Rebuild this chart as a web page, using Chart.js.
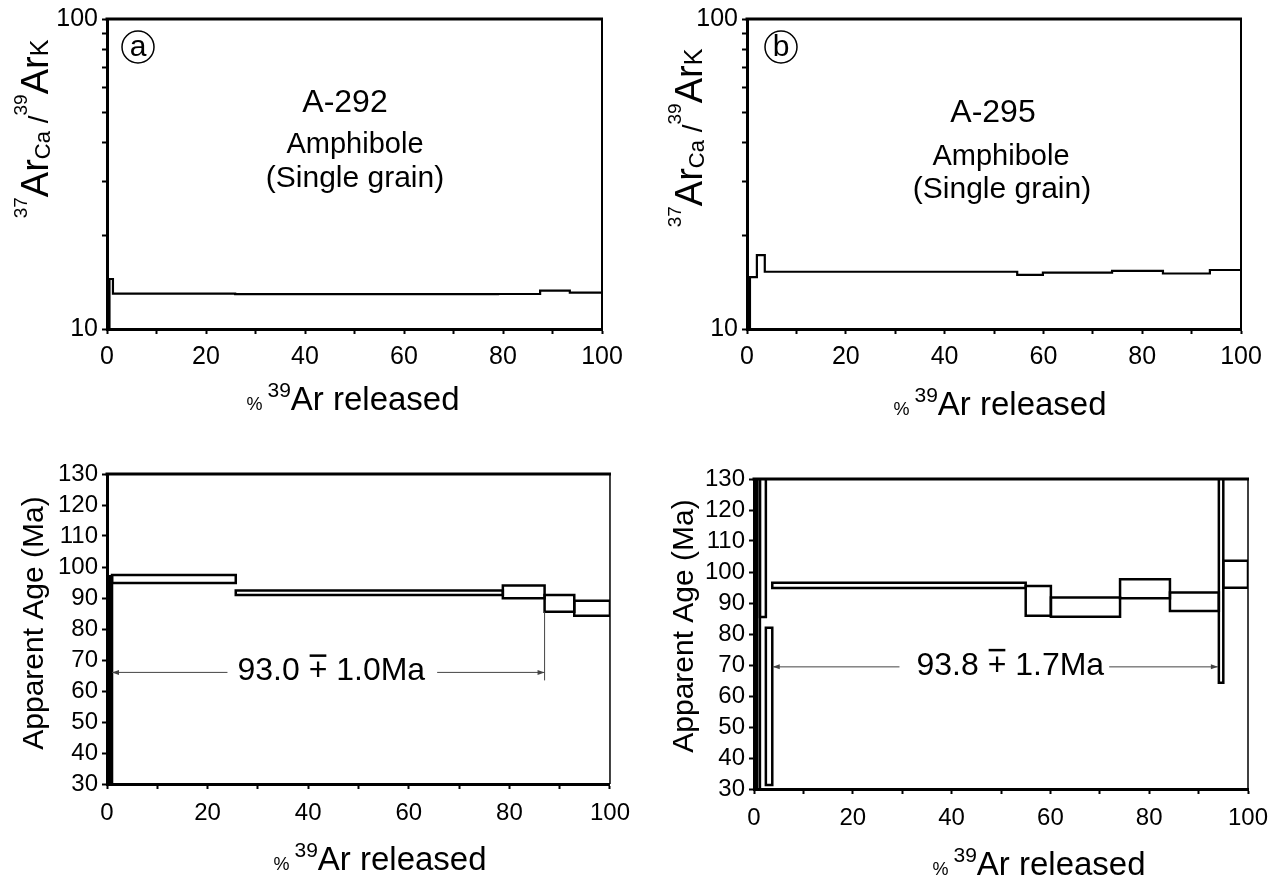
<!DOCTYPE html>
<html>
<head>
<meta charset="utf-8">
<script src="https://cdn.jsdelivr.net/npm/chart.js@4.4.1/dist/chart.umd.min.js"></script>
<style>
  body { margin: 0; background: #fff; }
  #page { position: relative; width: 1288px; height: 879px; }
  canvas { position: absolute; }
</style>
</head>
<body>
<div id="page">
  <canvas id="ratioA" width="640" height="430" style="left:0;top:0"></canvas>
  <canvas id="ratioB" width="648" height="430" style="left:640px;top:0"></canvas>
  <canvas id="ageA" width="640" height="449" style="left:0;top:430px"></canvas>
  <canvas id="ageB" width="648" height="449" style="left:640px;top:430px"></canvas>
</div>
<script>
// values
const xLabels = [0, 20, 40, 60, 80, 100];
const logTicks = [10, 20, 30, 40, 50, 60, 70, 80, 90, 100];
const logLabels = [10, 100];

// (a) A-292
const ratioStepsA = [0, 0.5, 1.2, 25.9, 79.0, 87.5, 93.5, 100];
const ratioValsA = [8, 14.5, 13.0, 12.95, 12.97, 13.3, 13.1];
const ageStepsA = [0, 0.5, 1.0, 25.6, 78.7, 87.0, 92.9, 100];
const ageLoA = [23, 27, 94.8, 91.0, 89.9, 85.6, 84.3];
const ageHiA = [97, 97, 97.4, 92.4, 94.0, 91.0, 89.1];
const plateauRangeA = [1.0, 87.0];
const plateauYA = 66;
const plateauTextA = ['93.0 ', ' 1.0Ma'];

// (b) A-295
const ratioStepsB = [0, 0.6, 2.0, 3.6, 54.7, 59.9, 73.9, 84.2, 93.7, 100];
const ratioValsB = [9, 14.7, 17.3, 15.3, 14.95, 15.2, 15.4, 15.1, 15.5];
const ageStepsB = [0, 0.6, 1.2, 2.4, 3.7, 55.0, 60.1, 74.1, 84.2, 94.1, 95.0, 100];
const ageLoB = [20, 20, 85.5, 31.3, 94.8, 85.9, 85.6, 91.5, 87.4, 64.3, 94.9];
const ageHiB = [140, 140, 150, 82, 96.5, 95.5, 91.8, 97.7, 93.4, 150, 103.6];
const plateauRangeB = [3.8, 93.9];
const plateauYB = 69.4;
const plateauTextB = ['93.8 ', ' 1.7Ma'];

const FONT = '"Liberation Sans", Arial, Helvetica, sans-serif';

function stepPoints(steps, vals) {
    const pts = [];
    vals.forEach((v, i) => {
        pts.push({ x: steps[i], y: v }, { x: steps[i + 1], y: v });
    });
    return pts;
}

function boxSets(steps, lo, hi) {
    return lo.map((l, i) => ({
        data: [
            { x: steps[i], y: l }, { x: steps[i + 1], y: l },
            { x: steps[i + 1], y: hi[i] }, { x: steps[i], y: hi[i] },
            { x: steps[i], y: l }
        ],
        borderColor: '#000',
        borderWidth: 2.5,
        borderCapStyle: 'square',
        pointRadius: 0,
        showLine: true,
        fill: false
    }));
}

// text made of pieces with own size and vertical shift (sup/sub)
function drawParts(ctx, parts, x, y, rotate) {
    ctx.save();
    ctx.translate(x, y);
    if (rotate) ctx.rotate(-Math.PI / 2);
    let total = 0;
    parts.forEach(p => {
        ctx.font = p[1] + 'px ' + FONT;
        total += ctx.measureText(p[0]).width;
    });
    let cx = -total / 2;
    ctx.fillStyle = '#000';
    ctx.textAlign = 'left';
    ctx.textBaseline = 'alphabetic';
    parts.forEach(p => {
        ctx.font = p[1] + 'px ' + FONT;
        ctx.fillText(p[0], cx, p[2] || 0);
        cx += ctx.measureText(p[0]).width;
    });
    ctx.restore();
}

function drawText(ctx, text, size, x, y) {
    ctx.font = size + 'px ' + FONT;
    ctx.fillStyle = '#000';
    ctx.textAlign = 'center';
    ctx.textBaseline = 'alphabetic';
    ctx.fillText(text, x, y);
}

function circled(ctx, letter, x, y) {
    ctx.lineWidth = 1.5;
    ctx.strokeStyle = '#000';
    ctx.beginPath();
    ctx.arc(x, y, 16, 0, Math.PI * 2);
    ctx.stroke();
    ctx.font = '30px ' + FONT;
    ctx.fillStyle = '#000';
    ctx.textAlign = 'center';
    ctx.textBaseline = 'middle';
    ctx.fillText(letter, x, y + 1);
}

function arrowHead(ctx, x, y, dir) {
    ctx.beginPath();
    ctx.moveTo(x, y);
    ctx.lineTo(x - dir * 7, y - 2.5);
    ctx.lineTo(x - dir * 7, y + 2.5);
    ctx.closePath();
    ctx.fill();
}

function drawPlateau(chart, range, yVal, text, shift, gapL, gapR, markerLo) {
    const ctx = chart.ctx;
    const xs = chart.scales.x, ys = chart.scales.y;
    const x0 = xs.getPixelForValue(range[0]);
    const x1 = xs.getPixelForValue(range[1]);
    const y = ys.getPixelForValue(yVal);

    ctx.font = '32px ' + FONT;
    const w0 = ctx.measureText(text[0]).width;
    const wp = ctx.measureText('+').width;
    const w1 = ctx.measureText(text[1]).width;
    const tx = (x0 + x1) / 2 + shift - (w0 + wp + w1) / 2;
    ctx.fillStyle = '#000';
    ctx.textAlign = 'left';
    ctx.textBaseline = 'alphabetic';
    ctx.fillText(text[0], tx, y + 8);
    ctx.fillText('+', tx + w0, y + 8);
    ctx.fillText(text[1], tx + w0 + wp, y + 8);
    ctx.fillRect(tx + w0 + 1, y - 18, wp - 2, 2.5); // bar over the plus

    ctx.strokeStyle = '#444';
    ctx.fillStyle = '#444';
    ctx.lineWidth = 1;
    ctx.beginPath();
    ctx.moveTo(x0, y); ctx.lineTo(tx - gapL, y);
    ctx.moveTo(tx + w0 + wp + w1 + gapR, y); ctx.lineTo(x1, y);
    if (markerLo !== undefined) {
        ctx.moveTo(x1, ys.getPixelForValue(markerLo));
        ctx.lineTo(x1, y + 8);
    }
    ctx.stroke();
    arrowHead(ctx, x0, y, -1);
    arrowHead(ctx, x1, y, 1);
}

const xTitle = [['%', 18, 0], [' ', 18, 0], ['39', 21, -13], ['Ar released', 33, 0]];
const ratioTitle = [['37', 19, -21], ['Ar', 38, 0], ['Ca', 22, 2], [' /', 28, 0],
                    ['39', 19, -21], ['Ar', 38, 0], ['K', 25, 0]];

const decor = {
    id: 'decor',
    afterDraw(chart, args, opts) {
        const ctx = chart.ctx;
        const a = chart.chartArea;
        ctx.save();
        ctx.strokeStyle = '#000';
        ctx.lineWidth = 3;
        ctx.beginPath();
        ctx.moveTo(a.left - 1.5, a.top);
        ctx.lineTo(a.right + 1, a.top);
        ctx.stroke();
        ctx.lineWidth = opts.rightWidth;
        ctx.beginPath();
        ctx.moveTo(a.right, a.top);
        ctx.lineTo(a.right, a.bottom);
        ctx.stroke();
        opts.draw(chart, ctx);
        ctx.restore();
    }
};

function axisX(height, pad, size) {
    return {
        type: 'linear', min: 0, max: 100,
        ticks: {
            stepSize: 10, autoSkip: false, maxRotation: 0, padding: pad, color: '#000',
            font: { family: FONT, size: size },
            callback: v => xLabels.includes(v) ? String(v) : ''
        },
        grid: { drawOnChartArea: false, drawTicks: true, tickLength: 5, tickWidth: 2, tickColor: '#000' },
        border: { display: true, width: 3, color: '#000' },
        afterFit: s => { s.height = height; }
    };
}

function logY(width) {
    return {
        type: 'logarithmic', min: 10, max: 100,
        afterBuildTicks: s => { s.ticks = logTicks.map(v => ({ value: v })); },
        ticks: {
            autoSkip: false, padding: 4, color: '#000',
            font: { family: FONT, size: 25 },
            callback: v => logLabels.includes(v) ? String(v) : ''
        },
        grid: { drawOnChartArea: false, drawTicks: true, tickLength: 5, tickWidth: 2, tickColor: '#000' },
        border: { display: true, width: 3, color: '#000' },
        afterFit: s => { s.width = width; }
    };
}

function ageY(width) {
    return {
        type: 'linear', min: 30, max: 130,
        ticks: {
            stepSize: 10, autoSkip: false, padding: 4, color: '#000',
            font: { family: FONT, size: 24 }
        },
        grid: { drawOnChartArea: false, drawTicks: true, tickLength: 5, tickWidth: 2, tickColor: '#000' },
        border: { display: true, width: 3, color: '#000' },
        afterFit: s => { s.width = width; }
    };
}

function makeChart(id, datasets, scales, padding, decorOpts) {
    return new Chart(document.getElementById(id), {
        type: 'scatter',
        data: { datasets: datasets },
        options: {
            responsive: false,
            animation: false,
            events: [],
            layout: { padding: padding },
            scales: scales,
            plugins: { legend: { display: false }, tooltip: { enabled: false }, decor: decorOpts }
        },
        plugins: [decor]
    });
}

const stepStyle = { borderColor: '#000', borderWidth: 2.2, pointRadius: 0, showLine: true, fill: false };

// (a) top: 37Ar/39Ar spectrum
makeChart('ratioA',
    [Object.assign({ data: stepPoints(ratioStepsA, ratioValsA) }, stepStyle)],
    { x: axisX(101, 8, 25), y: logY(107) },
    { top: 19, right: 38, left: 0, bottom: 0 },
    {
        rightWidth: 2,
        draw: (chart, ctx) => {
            circled(ctx, 'a', 138, 47);
            drawText(ctx, 'A-292', 32, 345, 112);
            drawText(ctx, 'Amphibole', 29, 355, 153);
            drawText(ctx, '(Single grain)', 30, 355, 187);
            drawParts(ctx, xTitle, 353, 410, false);
            drawParts(ctx, ratioTitle, 48, 129, true);
        }
    });

// (b) top
makeChart('ratioB',
    [Object.assign({ data: stepPoints(ratioStepsB, ratioValsB) }, stepStyle)],
    { x: axisX(101, 8, 25), y: logY(107) },
    { top: 19, right: 47, left: 0, bottom: 0 },
    {
        rightWidth: 2,
        draw: (chart, ctx) => {
            circled(ctx, 'b', 141, 47);
            drawText(ctx, 'A-295', 32, 353, 122);
            drawText(ctx, 'Amphibole', 29, 361, 165);
            drawText(ctx, '(Single grain)', 30, 362, 198);
            drawParts(ctx, xTitle, 360, 415, false);
            drawParts(ctx, ratioTitle, 62, 138, true);
        }
    });

// (a) bottom: age spectrum
makeChart('ageA',
    boxSets(ageStepsA, ageLoA, ageHiA),
    { x: axisX(95, 10, 24), y: ageY(107) },
    { top: 44, right: 26, left: 0, bottom: 0 },
    {
        rightWidth: 1.5,
        draw: (chart, ctx) => {
            drawPlateau(chart, plateauRangeA, plateauYA, plateauTextA, 3, 10, 12, ageLoA[5]);
            drawParts(ctx, xTitle, 380, 440, false);
            drawParts(ctx, [['Apparent Age (Ma)', 30, 0]], 43, 193, true);
        }
    });

// (b) bottom
makeChart('ageB',
    boxSets(ageStepsB, ageLoB, ageHiB),
    { x: axisX(90, 10, 24), y: ageY(114) },
    { top: 49, right: 40, left: 0, bottom: 0 },
    {
        rightWidth: 1.5,
        draw: (chart, ctx) => {
            drawPlateau(chart, plateauRangeB, plateauYB, plateauTextB, 15, 17, 5);
            drawParts(ctx, xTitle, 399, 445, false);
            drawParts(ctx, [['Apparent Age (Ma)', 30, 0]], 53, 196, true);
        }
    });
</script>
</body>
</html>
